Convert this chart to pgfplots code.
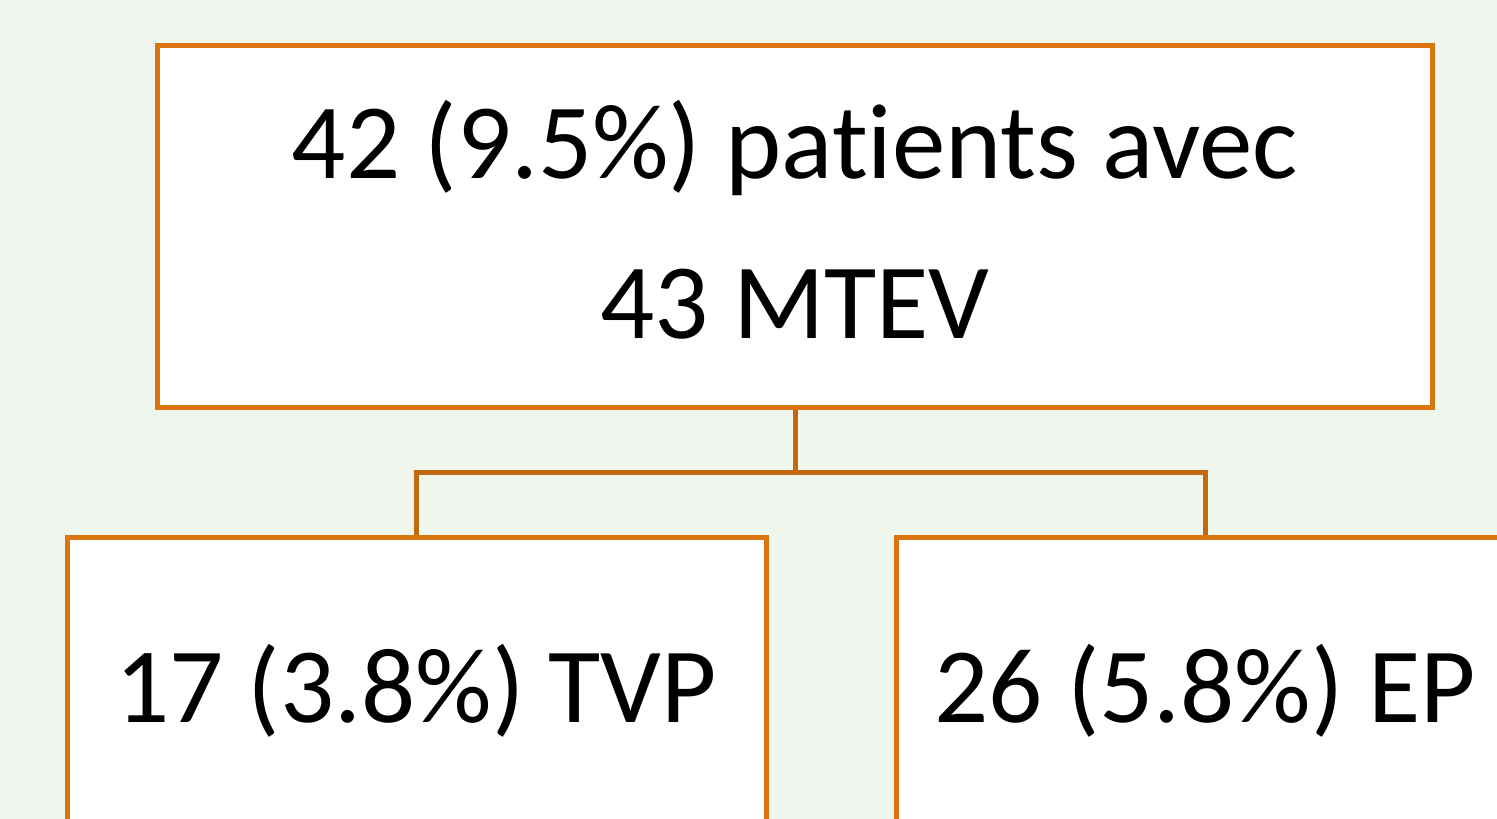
\documentclass[border=0pt]{standalone}
\usepackage{pgfplots}
\pgfplotsset{compat=1.18}
\usepackage{fontspec}
\setmainfont{Carlito}[Ligatures={NoCommon}]
\definecolor{bg}{HTML}{EFF6EE}
\definecolor{boxor}{HTML}{DB7510}
\definecolor{linkor}{HTML}{C4680F}
\begin{document}
\begin{tikzpicture}
\begin{axis}[
  width=1497pt, height=819pt, scale only axis,
  xmin=0, xmax=1497, ymin=0, ymax=819, y dir=reverse,
  axis lines=none, clip=true,
  axis background/.style={fill=bg},
]
% connectors
\addplot[linkor, line width=5pt, line join=miter] coordinates {(795,407) (795,472)};
\addplot[linkor, line width=5pt, line join=miter] coordinates {(416,537) (416,472) (1205,472) (1205,537)};
% boxes
\addplot[boxor, line width=5pt, fill=white, line join=miter] coordinates {(157,45) (1432,45) (1432,407) (157,407) (157,45)} -- cycle;
\addplot[boxor, line width=5pt, fill=white, line join=miter] coordinates {(67,537) (766,537) (766,900) (67,900) (67,537)} -- cycle;
\addplot[boxor, line width=5pt, fill=white, line join=miter] coordinates {(896,537) (1600,537) (1600,900) (896,900) (896,537)} -- cycle;
% texts
\node[anchor=base, font=\fontsize{107}{128}\selectfont] at (axis cs:795,178) {42 (9.5\%) patients avec};
\node[anchor=base, font=\fontsize{107}{128}\selectfont] at (axis cs:795,338) {43 MTEV};
\node[anchor=base, font=\fontsize{107}{128}\selectfont] at (axis cs:416,722) {17 (3.8\%) TVP};
\node[anchor=base, font=\fontsize{107}{128}\selectfont] at (axis cs:1205,722) {26 (5.8\%) EP};
\end{axis}
\end{tikzpicture}
\end{document}
